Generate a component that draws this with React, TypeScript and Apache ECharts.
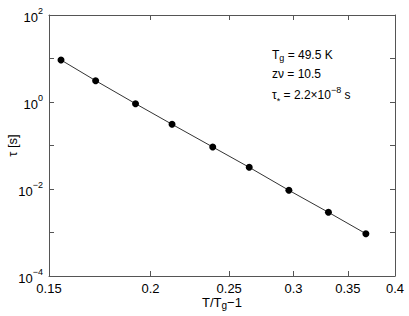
import React, { useEffect, useRef } from "react";
import * as echarts from "echarts";

// reduced temperature T/Tg - 1
const xValues = [0.1552, 0.1712, 0.1917, 0.2126, 0.2386, 0.2646, 0.2961, 0.3312, 0.3683];
// relaxation time tau [s]
const tauValues = [9.24, 3.09, 0.914, 0.307, 0.0924, 0.0315, 0.00933, 0.00291, 0.000938];
// x tick labels
const xTicks = [0.15, 0.2, 0.25, 0.3, 0.35, 0.4];
// y decade exponents (log10 of tau)
const yExponents = [-4, -3, -2, -1, 0, 1, 2];

const FONT = "'Liberation Sans', Arial, Helvetica, sans-serif";

export default function App() {
  const ref = useRef<HTMLDivElement>(null);
  useEffect(() => {
    if (!ref.current) return;
    const chart = echarts.init(ref.current, null, { renderer: "svg" });
    const lx = (v: number) => Math.log10(v);
    const xMin = lx(xTicks[0]);
    const xMax = lx(xTicks[xTicks.length - 1]);
    const yMin = yExponents[0];
    const yMax = yExponents[yExponents.length - 1];
    const tickVals = xTicks.map(lx);
    const axisLine = { onZero: false, lineStyle: { color: "#555", width: 1 } };
    const xLabelFmt = (v: number) => {
      let best = xTicks[0];
      for (const t of xTicks) if (Math.abs(lx(t) - v) < Math.abs(lx(best) - v)) best = t;
      return String(best);
    };
    const yLabelFmt = (v: number) => {
      const e = Math.round(v);
      if (e % 2 !== 0) return "";
      const s = e < 0 ? "\u2212" + Math.abs(e) : String(e);
      return `{b|10}{s|${s}}`;
    };
    const option: any = {
      animation: false,
      textStyle: { fontFamily: FONT },
      grid: { left: 49, right: 14, top: 15, bottom: 40, containLabel: false, outerBoundsMode: "none" },
      xAxis: [
        {
          type: "value",
          min: xMin,
          max: xMax,
          position: "bottom",
          axisLine,
          splitLine: { show: false },
          axisTick: { inside: true, length: 5, customValues: tickVals, lineStyle: { color: "#555" } },
          axisLabel: {
            customValues: tickVals,
            formatter: xLabelFmt,
            color: "#000",
            fontSize: 13,
            fontFamily: FONT,
            margin: 6,
            showMinLabel: true,
            showMaxLabel: true,
          },
          name: "T/T{sub|g}\u22121",
          nameLocation: "middle",
          nameGap: 18,
          nameMoveOverlap: false,
          nameTextStyle: {
            color: "#000",
            fontSize: 13,
            fontFamily: FONT,
            rich: {
              sub: { fontSize: 10, fontFamily: FONT, color: "#000", lineHeight: 8, verticalAlign: "bottom" },
            },
            lineHeight: 16,
          },
        },
        {
          type: "value",
          min: xMin,
          max: xMax,
          position: "top",
          axisLine,
          splitLine: { show: false },
          axisTick: { inside: true, length: 5, customValues: tickVals, lineStyle: { color: "#555" } },
          axisLabel: { show: false },
        },
      ],
      yAxis: [
        {
          type: "value",
          min: yMin,
          max: yMax,
          interval: 1,
          position: "left",
          axisLine,
          splitLine: { show: false },
          axisTick: { inside: true, length: 5, lineStyle: { color: "#555" } },
          axisLabel: {
            formatter: yLabelFmt,
            margin: 6,
            padding: [5, 0, 0, 0],
            rich: {
              b: { fontSize: 13, fontFamily: FONT, color: "#000", lineHeight: 22 },
              s: { fontSize: 9, fontFamily: FONT, color: "#000", lineHeight: 8, verticalAlign: "top" },
            },
          },
          name: "\u03c4 [s]",
          nameLocation: "middle",
          nameGap: 30,
          nameMoveOverlap: false,
          nameTextStyle: { color: "#000", fontSize: 13, fontFamily: FONT },
        },
        {
          type: "value",
          min: yMin,
          max: yMax,
          interval: 1,
          position: "right",
          axisLine,
          splitLine: { show: false },
          axisTick: { inside: true, length: 5, lineStyle: { color: "#555" } },
          axisLabel: { show: false },
        },
      ],
      series: [
        {
          type: "line",
          data: xValues.map((x, i) => [lx(x), Math.log10(tauValues[i])]),
          symbol: "circle",
          symbolSize: 7,
          itemStyle: { color: "#000" },
          lineStyle: { color: "#333", width: 1 },
        },
      ],
      graphic: [
        {
          type: "text",
          x: 272,
          y: 46.5,
          style: {
            text: "T{sub|g} = 49.5 K",
            fill: "#000",
            font: `12px ${FONT}`,
            rich: {
              sub: { fontSize: 9, fontFamily: FONT, fill: "#000", lineHeight: 8, verticalAlign: "bottom" },
            },
            lineHeight: 16,
          },
        },
        {
          type: "text",
          x: 272,
          y: 66,
          style: {
            text: "z\u03bd = 10.5",
            fill: "#000",
            font: `12px ${FONT}`,
            lineHeight: 16,
          },
        },
        {
          type: "text",
          x: 272,
          y: 85,
          style: {
            text: "{b|\u03c4}{t|*}{b| = 2.2\u00d710}{s|\u22128}{b| s}",
            fill: "#000",
            font: `12px ${FONT}`,
            rich: {
              b: { fontSize: 12, fontFamily: FONT, fill: "#000", lineHeight: 20 },
              t: { fontSize: 9, fontFamily: FONT, fill: "#000", lineHeight: 12, verticalAlign: "bottom" },
              s: { fontSize: 9, fontFamily: FONT, fill: "#000", lineHeight: 5, verticalAlign: "top" },
            },
          },
        },
      ],
    };
    chart.setOption(option);
    return () => chart.dispose();
  }, []);
  return <div ref={ref} style={{ width: 409, height: 316, position: "absolute", left: 0, top: 0 }} />;
}
